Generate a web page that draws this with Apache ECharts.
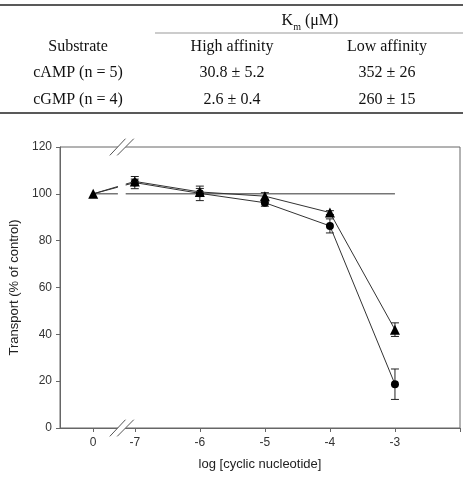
<!DOCTYPE html>
<html>
<head>
<meta charset="utf-8">
<script src="https://cdn.jsdelivr.net/npm/echarts@6.0.0/dist/echarts.min.js"></script>
<style>
  html, body { margin: 0; padding: 0; background: #fff; }
  #chartPanel { width: 466px; height: 480px; }
</style>
</head>
<body>
<div id="chartPanel"></div>
<script>
// table
var tableHead = ['Substrate', 'High affinity', 'Low affinity'];
var substrates = ['cAMP (n = 5)', 'cGMP (n = 4)'];
var highAffinity = ['30.8 ± 5.2', '2.6 ± 0.4'];
var lowAffinity = ['352 ± 26', '260 ± 15'];

// chart: the control ("0") sits left of the axis break
var CTRL_POS = -7.64;
var xPos = [CTRL_POS, -7, -6, -5, -4, -3];
var xTickLabels = ['0', '-7', '-6', '-5', '-4', '-3'];
var circleMean = [100, 104.8, 100.2, 96.2, 86.3, 18.7];
var circleErr = [0, 2.6, 3.1, 1.5, 3.0, 6.5];
var triMean = [100, 105.3, 100.8, 99.0, 92.0, 42.0];
var triErr = [0, 1.0, 1.5, 1.5, 0.8, 2.9];
var controlLevel = 100;
var breakLeft = -7.26, breakRight = -7.14, breakMid = -7.2;

var chartPanel = echarts.init(document.getElementById('chartPanel'));

function pairs(means, hideFirst) {
  return xPos.map(function (x, i) {
    if (hideFirst && i === 0) return { value: [x, means[i]], symbol: 'none' };
    return [x, means[i]];
  });
}
function errData(means, errs) {
  var out = [];
  xPos.forEach(function (x, i) {
    if (errs[i] > 0) out.push([x, means[i] - errs[i], means[i] + errs[i]]);
  });
  return out;
}
function errRender(params, api) {
  var lo = api.coord([api.value(0), api.value(1)]);
  var hi = api.coord([api.value(0), api.value(2)]);
  var w = 4;
  var st = { stroke: '#222', lineWidth: 1 };
  return {
    type: 'group',
    children: [
      { type: 'line', shape: { x1: lo[0], y1: lo[1], x2: hi[0], y2: hi[1] }, style: st },
      { type: 'line', shape: { x1: lo[0] - w, y1: lo[1], x2: lo[0] + w, y2: lo[1] }, style: st },
      { type: 'line', shape: { x1: hi[0] - w, y1: hi[1], x2: hi[0] + w, y2: hi[1] }, style: st }
    ]
  };
}
function sameX(a, b) { return Math.abs(a - b) < 1e-6; }

var serif = '"Liberation Serif", "Times New Roman", serif';
var tableGraphics = [
  { type: 'line', shape: { x1: 0, y1: 5, x2: 463, y2: 5 }, style: { stroke: '#222', lineWidth: 1.5 } },
  { type: 'line', shape: { x1: 155, y1: 33, x2: 463, y2: 33 }, style: { stroke: '#999', lineWidth: 1.2 } },
  { type: 'line', shape: { x1: 0, y1: 113, x2: 463, y2: 113 }, style: { stroke: '#222', lineWidth: 1.5 } },
  {
    type: 'text', x: 310, y: 21,
    style: {
      text: '{a|K}{b|m}{a| (μM)}', align: 'center', verticalAlign: 'middle',
      fill: '#111',
      rich: {
        a: { fontSize: 16, fontFamily: serif, fill: '#111', lineHeight: 22 },
        b: { fontSize: 10, fontFamily: serif, fill: '#111', verticalAlign: 'bottom', lineHeight: 22 }
      }
    }
  }
];
var colX = [78, 232, 387];
var rowY = [47, 73, 100];
tableHead.forEach(function (t, i) {
  tableGraphics.push({ type: 'text', x: colX[i], y: rowY[0], style: { text: t, align: 'center', verticalAlign: 'middle', font: '16px ' + serif, fill: '#111' } });
});
substrates.forEach(function (s, r) {
  [s, highAffinity[r], lowAffinity[r]].forEach(function (t, i) {
    tableGraphics.push({ type: 'text', x: colX[i], y: rowY[r + 1], style: { text: t, align: 'center', verticalAlign: 'middle', font: '16px ' + serif, fill: '#111' } });
  });
});

var axisColor = '#666';
var option = {
  animation: false,
  backgroundColor: '#fff',
  grid: { left: 59, right: 6, top: 147, bottom: 52, show: true, borderColor: axisColor, borderWidth: 1 },
  xAxis: {
    type: 'value', min: -8.15, max: -2.0,
    name: 'log [cyclic nucleotide]', nameLocation: 'middle', nameGap: 30,
    nameTextStyle: { fontFamily: '"Liberation Sans", Arial', fontSize: 13, color: '#222' },
    splitLine: { show: false },
    axisLine: { onZero: false, lineStyle: { color: axisColor, width: 1 } },
    axisTick: { show: true, length: 4, customValues: xPos.concat([-2]), lineStyle: { color: axisColor } },
    axisLabel: {
      customValues: xPos, margin: 9,
      fontFamily: '"Liberation Sans", Arial', fontSize: 12, color: '#333',
      formatter: function (v) {
        for (var i = 0; i < xPos.length; i++) if (sameX(v, xPos[i])) return xTickLabels[i];
        return '';
      }
    }
  },
  yAxis: {
    type: 'value', min: 0, max: 120, interval: 20,
    name: 'Transport (% of control)', nameLocation: 'middle', nameGap: 39, nameRotate: 90,
    nameTextStyle: { fontFamily: '"Liberation Sans", Arial', fontSize: 13, color: '#222' },
    splitLine: { show: false },
    axisLine: { show: true, lineStyle: { color: axisColor, width: 1 } },
    axisTick: { show: true, length: 4, lineStyle: { color: axisColor } },
    axisLabel: { margin: 8, fontFamily: '"Liberation Sans", Arial', fontSize: 12, color: '#333' }
  },
  series: [
    {
      name: 'control', type: 'line', symbol: 'none', silent: true,
      lineStyle: { color: '#333', width: 1 },
      data: [[CTRL_POS, controlLevel], [-3, controlLevel]], z: 1
    },
    {
      name: 'circle-err', type: 'custom', renderItem: errRender, data: errData(circleMean, circleErr), z: 2
    },
    {
      name: 'triangle-err', type: 'custom', renderItem: errRender, data: errData(triMean, triErr), z: 2
    },
    {
      name: 'circle', type: 'line', symbol: 'circle', symbolSize: 8,
      itemStyle: { color: '#000' }, lineStyle: { color: '#333', width: 1 },
      data: pairs(circleMean, true), z: 3
    },
    {
      name: 'triangle', type: 'line', symbol: 'triangle', symbolSize: 10,
      itemStyle: { color: '#000' }, lineStyle: { color: '#333', width: 1 },
      data: pairs(triMean, false), z: 4
    }
  ],
  graphic: tableGraphics
};
chartPanel.setOption(option);

// axis break: white gap in the plot plus "//" marks on the top border and x axis
var gTop = chartPanel.convertToPixel({ gridIndex: 0 }, [breakMid, 120]);
var gBot = chartPanel.convertToPixel({ gridIndex: 0 }, [breakMid, 0]);
var xl = chartPanel.convertToPixel({ gridIndex: 0 }, [breakLeft, 0])[0];
var xr = chartPanel.convertToPixel({ gridIndex: 0 }, [breakRight, 0])[0];
function slashes(cx, cy) {
  var a1 = [cx - 12, cy + 8.4], b1 = [cx + 3.7, cy - 8.3];
  var a2 = [cx - 4.6, cy + 8.4], b2 = [cx + 12, cy - 8.3];
  return [
    { type: 'polygon', z: 100, shape: { points: [a1, b1, b2, a2] }, style: { fill: '#fff' } },
    { type: 'line', z: 101, shape: { x1: a1[0], y1: a1[1], x2: b1[0], y2: b1[1] }, style: { stroke: '#555', lineWidth: 1 } },
    { type: 'line', z: 101, shape: { x1: a2[0], y1: a2[1], x2: b2[0], y2: b2[1] }, style: { stroke: '#555', lineWidth: 1 } }
  ];
}
var breakGraphics = [
  { type: 'rect', z: 99, shape: { x: xl, y: gTop[1] + 1, width: xr - xl, height: gBot[1] - gTop[1] - 2 }, style: { fill: '#fff' } }
].concat(slashes(gTop[0], gTop[1])).concat(slashes(gBot[0], gBot[1]));

chartPanel.setOption({ graphic: tableGraphics.concat(breakGraphics) });
</script>
</body>
</html>
